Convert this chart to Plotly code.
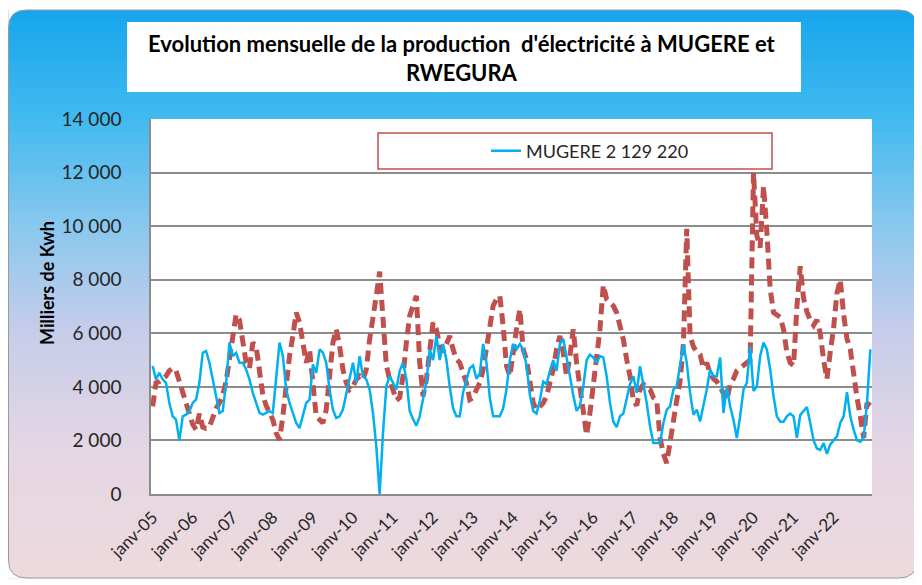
import plotly.graph_objects as go

# ---------------- data ----------------
mois_abbr = ["janv", "févr", "mars", "avr", "mai", "juin",
             "juil", "août", "sept", "oct", "nov", "déc"]
annees = list(range(2005, 2023))
categories = [f"{m}-{str(a)[2:]}" for a in annees for m in mois_abbr]

tick_labels = [f"janv-{str(a)[2:]}" for a in range(2005, 2023)]

mugere = [
    4780, 4280, 4525, 4280, 4150, 3400, 2900, 2775, 2000, 2900, 2960, 3090,
    3400, 3525, 4150, 5275, 5340, 4900, 4280, 3650, 3025, 3100, 4150, 5650,
    5150, 5275, 4900, 4900, 4650, 4280, 3775, 3400, 3025, 2960, 3025, 3090,
    3025, 4400, 5650, 5150, 3900, 3400, 3025, 2650, 2460, 2900, 3400, 3525,
    4840, 4525, 5400, 5275, 4900, 3900, 3150, 2840, 2900, 3150, 3775, 4400,
    4900, 4150, 5150, 4400, 4280, 3900, 3025, 1775, 0, 2275, 4025, 4400,
    4150, 3900, 4600, 4900, 4300, 3100, 2800, 2550, 2900, 3500, 4200, 5400,
    5000, 5900, 5000, 5600, 5000, 4000, 3200, 2900, 2900, 3800, 4300, 4700,
    4800, 4300, 4500, 5600, 4900, 3600, 2900, 2900, 2900, 3200, 3900, 5000,
    5600, 5400, 5600, 5400, 4800, 3700, 3100, 3000, 3500, 4200, 4100, 4600,
    5000, 4600, 5600, 5800, 5100, 4300, 3700, 3100, 3300, 4000, 5000, 5200,
    5100, 4900, 5150, 5100, 4400, 3400, 2700, 2500, 2900, 3000, 3500, 4100,
    4400, 3775, 4775, 4150, 3400, 2525, 1900, 1900, 1900, 2650, 3150, 3275,
    3900, 4025, 4900, 5590, 4900, 3775, 2960, 3150, 2710, 3275, 3900, 4650,
    4400, 4400, 5100, 3025, 4000, 3275, 2775, 2090, 2900, 3900, 4150, 5500,
    3850, 4000, 5150, 5650, 5400, 4650, 3650, 2900, 2700, 2700, 2900, 3000,
    2900, 2100, 2950, 3100, 3250, 2650, 2000, 1700, 1650, 1900, 1500, 1850,
    2000, 2150, 2650, 2900, 3800, 2900, 2400, 2000, 1950, 2100, 3400, 5400,
]

rwegura = [
    3275, 4150, 4200, 4300, 4400, 4600, 4700, 4600, 4200, 3700, 3300, 2900,
    2600, 2400, 3000, 2500, 2450, 2500, 2900, 3200, 3400, 3700, 4200, 5100,
    6100, 6700, 6500, 5700, 4900, 4700, 5650, 5500, 4500, 3700, 3300, 3025,
    2775, 2275, 2025, 2900, 4150, 5150, 5900, 6775, 6400, 5650, 4900, 5400,
    3900, 2900, 2775, 2650, 3150, 4275, 5650, 6150, 5525, 4650, 4150, 3900,
    4025, 4275, 4400, 4275, 4650, 5775, 6500, 7400, 8300, 6500, 4800, 4275,
    3800, 3500, 3600, 4400, 5650, 6650, 7025, 7400, 4900, 3650, 4275, 5275,
    6400, 6150, 5525, 5300, 5650, 5900, 5400, 5025, 4900, 4500, 4150, 3525,
    3600, 3900, 4150, 4650, 5400, 6400, 7025, 7275, 7400, 6275, 4775, 4400,
    5400, 6150, 6900, 5400, 5025, 4150, 3400, 3150, 3275, 3400, 3650, 4150,
    4650, 5400, 5900, 5275, 4400, 5150, 6150, 4900, 3900, 3025, 2200, 3025,
    4150, 5150, 6150, 7800, 7275, 7150, 7025, 6775, 6275, 5775, 5025, 4400,
    3500, 3300, 3900, 4100, 3950, 3900, 3600, 3500, 2100, 1500, 1150, 2000,
    2700, 3500, 4200, 5600, 9900, 5900, 5500, 5300, 5200, 4700, 4900, 4500,
    4300, 4200, 4000, 3700, 3500, 4100, 4300, 4600, 4700, 4800, 4950, 5000,
    12000, 9650, 9200, 11500, 9800, 7650, 6775, 6700, 6600, 6150, 5275, 4900,
    4800, 7000, 8500, 7300, 6800, 6500, 6300, 6500, 6000, 5000, 4300, 5300,
    6200, 7500, 8000, 6700, 5800, 5400, 4300, 3600, 2900, 2100, 3400, 3300,
]

# ---------------- geometry (page pixels -> paper) ----------------
OFF = 8                      # default page body margin
FW, FH = 922 - OFF, 585 - OFF
L, T, R, B = 151, 119, 872, 494   # plot area in page pixels
PW, PH = R - L, B - T


def px(x):
    return (x - L) / PW


def py(y):
    return (B - y) / PH


shapes = []

# gradient background (stripes) inside the rounded frame
frame_x0, frame_x1, frame_y0, frame_y1 = 8.5, 917, 10, 578
stops = [
    (10, (22, 166, 237)),
    (120, (66, 186, 239)),
    (230, (140, 200, 238)),
    (330, (198, 205, 234)),
    (450, (228, 214, 227)),
    (578, (237, 218, 221)),
]


def grad(y):
    for (ya, ca), (yb, cb) in zip(stops[:-1], stops[1:]):
        if ya <= y <= yb:
            t = (y - ya) / (yb - ya)
            return tuple(round(a + (b - a) * t) for a, b in zip(ca, cb))
    return stops[-1][1]


step = 4
y = frame_y0
while y < frame_y1:
    y2 = min(y + step, frame_y1)
    c = grad((y + y2) / 2)
    shapes.append(dict(type="rect", xref="paper", yref="paper", layer="below",
                       x0=px(frame_x0), x1=px(frame_x1), y0=py(y2 + 0.6), y1=py(y),
                       fillcolor=f"rgb{c}", line=dict(width=0)))
    y = y2

rad = 18


def P(x, y):
    return f"{px(x)},{py(y)}"


corners = [
    (frame_x0, frame_y0, 1, 1),
    (frame_x1, frame_y0, -1, 1),
    (frame_x0, frame_y1, 1, -1),
    (frame_x1, frame_y1, -1, -1),
]
for cx, cy, sx, sy in corners:
    path = (f"M{P(cx, cy)} L{P(cx + sx * rad, cy)} "
            f"Q{P(cx, cy)} {P(cx, cy + sy * rad)} Z")
    shapes.append(dict(type="path", xref="paper", yref="paper", layer="below",
                       path=path, fillcolor="white", line=dict(width=0)))

x0, x1, y0, y1 = frame_x0, frame_x1, frame_y0, frame_y1
outline = (f"M{P(x0 + rad, y0)} L{P(x1 - rad, y0)} Q{P(x1, y0)} {P(x1, y0 + rad)} "
           f"L{P(x1, y1 - rad)} Q{P(x1, y1)} {P(x1 - rad, y1)} "
           f"L{P(x0 + rad, y1)} Q{P(x0, y1)} {P(x0, y1 - rad)} "
           f"L{P(x0, y0 + rad)} Q{P(x0, y0)} {P(x0 + rad, y0)} Z")
shapes.append(dict(type="path", xref="paper", yref="paper", layer="below",
                   path=outline, line=dict(color="#9a9a9a", width=1)))

# title box
shapes.append(dict(type="rect", xref="paper", yref="paper", layer="below",
                   x0=px(127), x1=px(801), y0=py(92), y1=py(22),
                   fillcolor="white", line=dict(width=0)))

# plot area background
shapes.append(dict(type="rect", xref="paper", yref="paper", layer="below",
                   x0=0, x1=1, y0=0, y1=1, fillcolor="white", line=dict(width=0)))

# legend frame
shapes.append(dict(type="rect", xref="paper", yref="paper", layer="above",
                   x0=px(378), x1=px(772), y0=py(169), y1=py(133),
                   fillcolor="white", line=dict(color="#C0504D", width=1.5)))

fig = go.Figure()
fig.add_trace(go.Scatter(
    x=categories, y=rwegura, name="RWEGURA", mode="lines", showlegend=False,
    line=dict(color="#C0504D", width=5, dash="11px,6px"),
))
fig.add_trace(go.Scatter(
    x=categories, y=mugere, name="MUGERE 2 129 220", mode="lines",
    line=dict(color="#00B0F0", width=2.5),
))

fig.update_layout(
    width=FW, height=FH,
    margin=dict(l=L - OFF, r=FW - (R - OFF), t=T - OFF, b=FH - (B - OFF),
                autoexpand=False),
    paper_bgcolor="white",
    plot_bgcolor="white",
    separators=", ",
    font=dict(family="Lato, sans-serif", color="#262626"),
    shapes=shapes,
    showlegend=True,
    legend=dict(x=px(486), y=py(151), xanchor="left", yanchor="middle",
                bgcolor="rgba(0,0,0,0)", borderwidth=0,
                font=dict(size=18, color="#262626")),
    annotations=[
        dict(xref="paper", yref="paper", x=px(462), y=py(58), showarrow=False,
             xanchor="center", yanchor="middle",
             text="<b>Evolution mensuelle de la production  d'électricité à MUGERE et<br>RWEGURA</b>",
             font=dict(size=22, color="black", family="Lato, sans-serif")),
        dict(xref="paper", yref="paper", x=px(47), y=py(283), showarrow=False,
             xanchor="center", yanchor="middle", textangle=-90,
             text="<b>Milliers de Kwh</b>",
             font=dict(size=18, color="black", family="Lato, sans-serif")),
    ],
)

fig.update_xaxes(
    type="category",
    range=[-0.5, len(categories) - 0.5],
    tickmode="array", tickvals=[f"janv-{str(a)[2:]}" for a in range(2005, 2023)],
    ticktext=tick_labels,
    tickangle=-45,
    ticks="outside", ticklen=5, tickcolor="rgba(0,0,0,0)",
    tickfont=dict(size=17, color="#262626"),
    showgrid=False,
    showline=True, linecolor="#8C8C8C", linewidth=1.5,
    zeroline=False,
)
fig.update_yaxes(
    range=[0, 14000], dtick=2000, tickformat=",d",
    ticks="outside", ticklen=24, tickcolor="rgba(0,0,0,0)",
    tickfont=dict(size=19, color="#262626"),
    showgrid=True, gridcolor="#8C8C8C", gridwidth=1.5,
    showline=True, linecolor="#8C8C8C", linewidth=1.5,
    zeroline=False,
)

fig.write_html("out.html")
